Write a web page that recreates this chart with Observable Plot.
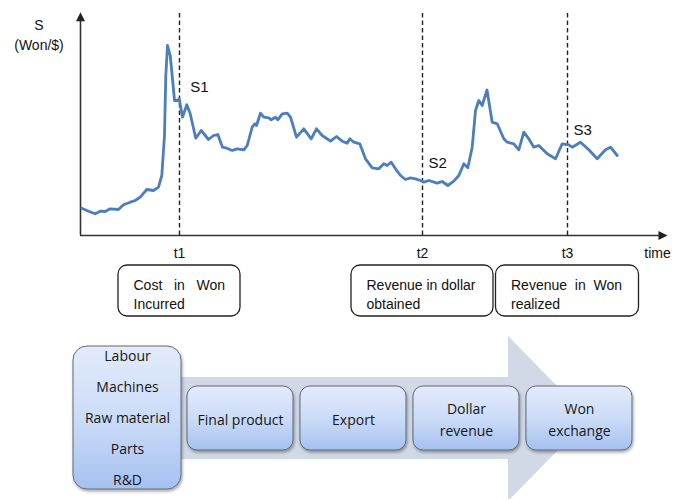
<!DOCTYPE html>
<html><head><meta charset="utf-8">
<script src="https://cdn.jsdelivr.net/npm/d3@7"></script>
<script src="https://cdn.jsdelivr.net/npm/@observablehq/plot@0.6"></script>
<style>
html,body{margin:0;padding:0;background:#fff;}
#chart svg{display:block;}
svg text{white-space:pre;}
</style></head><body><div id="chart"></div>
<script>
// ---- data (time index from origin, S height above baseline, relative units)
const seriesT = [1.3, 8, 14.7, 19.7, 24.7, 29.7, 38, 43, 49.7, 54.7,
  59.7, 66.3, 73, 78, 81.3, 84, 85.3, 87, 89.7, 92,
  94, 97, 98.7, 102, 106.3, 109.7, 115.3, 120.7, 128, 133,
  137.3, 142, 146.3, 151.7, 156.7, 163.3, 166.7, 171.7, 174.3, 176,
  180, 183.3, 188.3, 190.7, 195, 197.3, 201.7, 206.7, 210, 216,
  223.3, 230.7, 236, 241.7, 250, 256, 261.7, 266.7, 269.3, 273.3,
  279.3, 285, 291.7, 298.3, 303.3, 306.7, 310.7, 315, 320, 325,
  330, 335, 340, 343.3, 348.3, 356.7, 361.7, 367.3, 373.3, 378.3,
  383.3, 387.3, 391.7, 395, 398.3, 401.7, 406.5, 411.7, 416.7, 423.3,
  426.7, 433.3, 438.3, 443.3, 448.3, 453.3, 458.3, 466.7, 475, 481.7,
  488.3, 491.7, 500, 508.3, 516.7, 525, 530, 536.7];
const seriesS = [27.3, 24.3, 21.7, 24.3, 24, 26.7, 26, 30.7, 33.3, 35,
  38.3, 46, 45, 48.3, 60, 100, 160, 190, 180, 156.7,
  135, 135, 136.7, 118.3, 130.7, 121.7, 97.3, 105, 96, 100,
  101, 88.3, 87.3, 85, 86.7, 85.7, 90, 108.3, 111.7, 110,
  122.3, 118.3, 117.7, 115.7, 118.3, 115.7, 121.7, 122.3, 118.3, 98.3,
  106.7, 96.7, 106.7, 100, 94.3, 99, 94.3, 92.3, 96.7, 93.3,
  91.7, 76.7, 67.7, 66.7, 71.7, 70, 73.3, 66.7, 60, 56,
  57.7, 56.7, 55, 53.3, 55, 52.3, 54, 50, 54.3, 60,
  71.7, 67.7, 88.3, 125, 135, 130, 145.5, 113.3, 111.7, 96.7,
  93.3, 91.7, 85.7, 103.3, 96.7, 88.3, 90, 81.7, 76.7, 91.7,
  90.7, 88.3, 93.3, 85.7, 76.7, 85.7, 88.3, 80];
const eventNames = ["t1", "t2", "t3"];
const eventTimes = [99, 342, 487];
const spotNames = ["S1", "S2", "S3"];
const eventBoxText = ["Cost   in   Won\nIncurred", "Revenue in dollar\nobtained", "Revenue  in  Won\nrealized"];
const axisTitleLines = ["S", "(Won/$)"];
const timeTitle = "time";
const flowInputs = ["Labour", "Machines", "Raw material", "Parts", "R&D"];
const flowSteps = ["Final product", "Export", "Dollar\nrevenue", "Won\nexchange"];

// ---- layout
const W = 687;
const T_END = 588, S_TOP = 223;
const boxHalf = [61, 71, 71.5];
const spotOffset = [[10.7, 148], [6, 72.3], [6, 105.7]];

const series = seriesT.map((t, i) => ({t, s: seriesS[i]}));
const events = eventNames.map((n, i) => ({name: n, t: eventTimes[i], spot: spotNames[i], box: eventBoxText[i], i}));

const arrowUp = {draw(ctx) { ctx.moveTo(0, 0); ctx.lineTo(-4.5, 9); ctx.lineTo(4.5, 9); ctx.closePath(); }};
const arrowRight = {draw(ctx) { ctx.moveTo(0, 0); ctx.lineTo(-9, -4.5); ctx.lineTo(-9, 4.5); ctx.closePath(); }};

const topFont = "'Liberation Sans', Arial, sans-serif";

const topPlot = Plot.plot({
  width: W, height: 330, margin: 0,
  x: {domain: [0, T_END], range: [80, 668], axis: null},
  y: {domain: [0, S_TOP], range: [235, 12], axis: null},
  style: {fontFamily: topFont, fontSize: "14px", background: "#fff", color: "#111"},
  marks: [
    Plot.ruleX(events, {x: "t", y1: 0, y2: S_TOP, stroke: "#222", strokeWidth: 1.4, strokeDasharray: "4.5,3"}),
    Plot.ruleY([0], {x1: 0, x2: T_END - 4, stroke: "#333", strokeWidth: 1.6}),
    Plot.ruleX([0], {y1: 0, y2: S_TOP - 4, stroke: "#333", strokeWidth: 1.6}),
    Plot.dot([0], {x: T_END - 1, y: 0, symbol: arrowRight, r: 4, fill: "#222", stroke: "none"}),
    Plot.dot([0], {x: 0, y: S_TOP + 0.3, symbol: arrowUp, r: 4, fill: "#222", stroke: "none"}),
    Plot.line(series, {x: "t", y: "s", stroke: "#4a7ebf", strokeWidth: 2.8, strokeLinejoin: "round", strokeLinecap: "round"}),
    Plot.text(axisTitleLines.map((s, i) => ({s, i})), {x: -41.5, y: d => 210 - 20 * d.i, text: "s", fontSize: 14}),
    Plot.text(events, {x: "t", y: -18, text: "name", fontSize: 14}),
    Plot.text([timeTitle], {x: 577, y: -18, text: d => d, fontSize: 14}),
    Plot.text(events, {x: d => d.t + spotOffset[d.i][0], y: d => spotOffset[d.i][1], text: "spot", textAnchor: "start", fontSize: 15}),
    Plot.rect(events, {x1: d => d.t - boxHalf[d.i], x2: d => d.t + boxHalf[d.i], y1: -30, y2: -81, rx: 9, fill: "#fff", stroke: "#222", strokeWidth: 1.3}),
    Plot.text(events, {x: d => d.t - boxHalf[d.i] + 15, y: -57.5, text: "box", textAnchor: "start", lineHeight: 1.36, fontSize: 14})
  ]
});

// bottom flow diagram: x = process step index, y = offset from the flow centre line
const inputHalf = 0.478, stepHalf = 0.469;
const shaftStart = -0.531, headBase = 2.372, tip = 3.088;
const arrowShape = [
  {u: shaftStart, lo: -41, hi: 41},
  {u: headBase, lo: -41, hi: 41},
  {u: headBase, lo: -83, hi: 82},
  {u: tip, lo: -0.5, hi: -0.5}
];
const steps = flowSteps.map((s, i) => ({s, i}));
const inputs = flowInputs.map((s, i) => ({s, i}));
const flowFont = "'Open Sans', 'Noto Sans', sans-serif";

const bottomPlot = Plot.plot({
  width: W, height: 169, margin: 0,
  x: {domain: [-2.124, 3.956], range: [0, W], axis: null},
  y: {domain: [-81, 88], range: [169, 0], axis: null},
  style: {fontFamily: flowFont, fontSize: "14px", background: "#fff", color: "#111"},
  marks: [
    Plot.area(arrowShape, {x1: "u", y1: "lo", y2: "hi", fill: "#d1d8e6", curve: "linear"}),
    Plot.rect([flowInputs], {x1: -1 - inputHalf, x2: -1 + inputHalf, y1: -71, y2: 72, rx: 14, fill: "url(#boxGrad)", stroke: "#5f6a79", strokeWidth: 1}),
    Plot.rect(steps, {x1: d => d.i - stepHalf, x2: d => d.i + stepHalf, y1: -32, y2: 32, rx: 10, fill: "url(#boxGrad)", stroke: "#5f6a79", strokeWidth: 1}),
    Plot.text(inputs, {x: -1, y: d => 62 - 31 * d.i, text: "s", fill: "#161616"}),
    Plot.text(steps, {x: "i", y: 1, text: "s", lineHeight: 1.57, fill: "#161616"})
  ]
});

const defs = d3.select(bottomPlot).insert("defs", ":first-child");
defs.html(`
  <linearGradient id="boxGrad" x1="0" y1="0" x2="0" y2="1">
    <stop offset="0" stop-color="#e3ebfb"/>
    <stop offset="0.5" stop-color="#cbdcf8"/>
    <stop offset="1" stop-color="#a6c1ef"/>
  </linearGradient>
  <filter id="shadow" x="-10%" y="-10%" width="130%" height="130%">
    <feDropShadow dx="1" dy="2" stdDeviation="1.6" flood-color="#000" flood-opacity="0.35"/>
  </filter>`);
d3.select(bottomPlot).selectAll('[fill="url(#boxGrad)"]').attr("filter", "url(#shadow)");

const root = document.getElementById("chart");
root.appendChild(topPlot);
root.appendChild(bottomPlot);
</script></body></html>
